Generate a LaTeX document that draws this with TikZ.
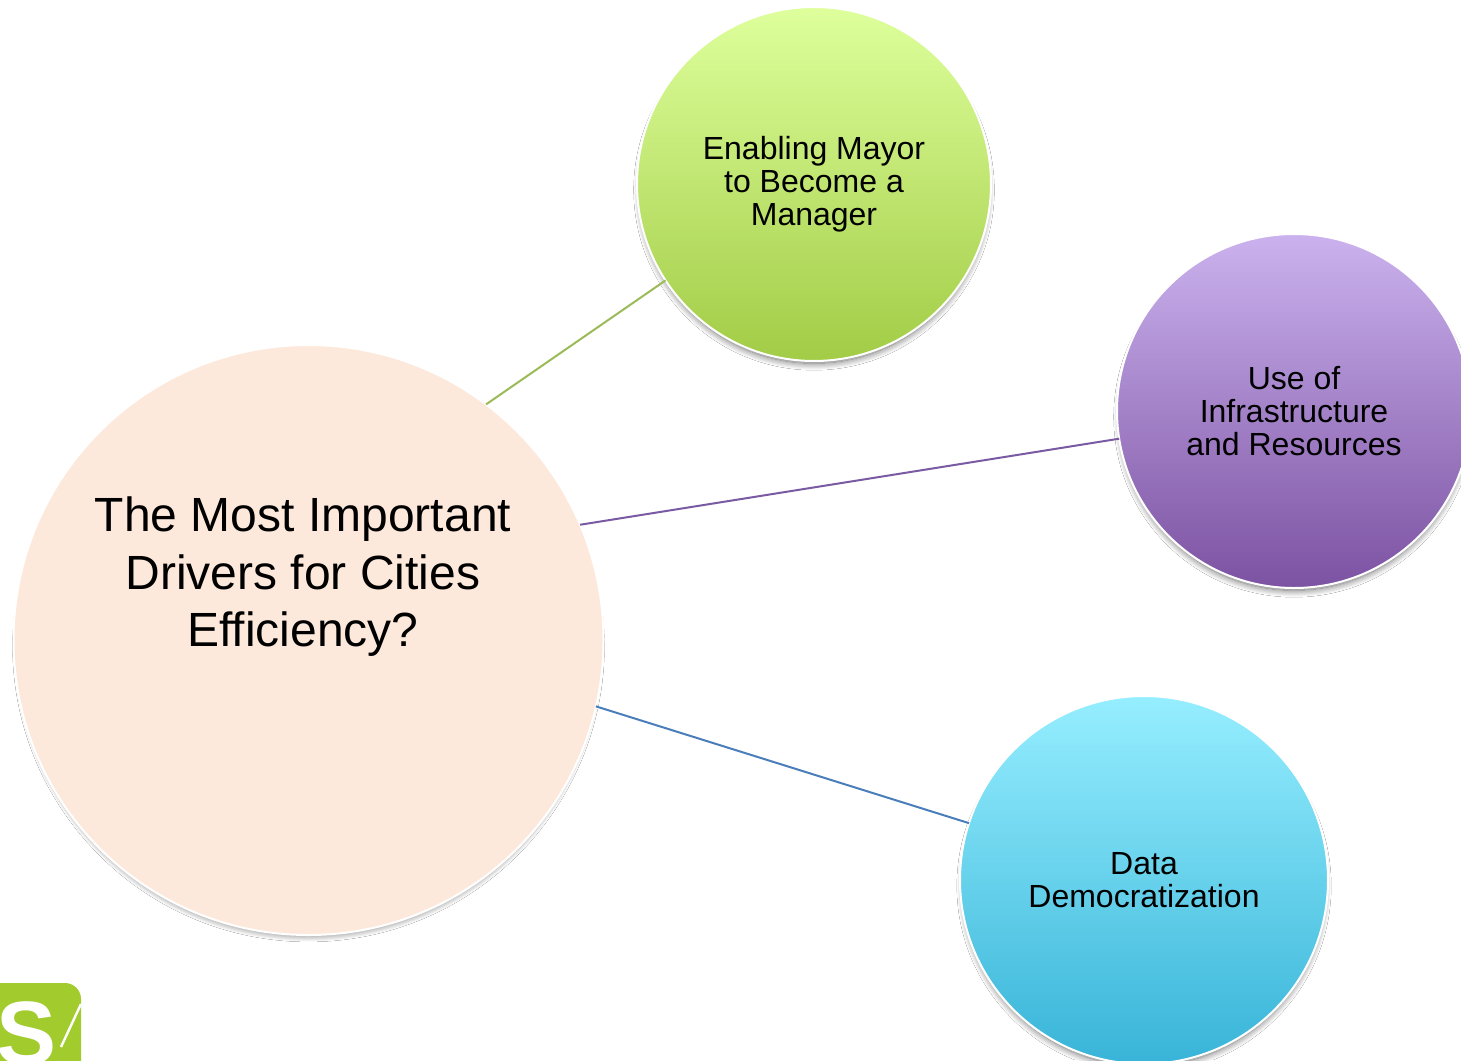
\documentclass[tikz,border=0pt]{standalone}
\usepackage{fontspec}
\setmainfont{Liberation Sans}
\usetikzlibrary{shadows.blur}
\definecolor{mainPeach}{HTML}{FDE9DB}
\definecolor{logoGreen}{HTML}{A2CB2E}
\definecolor{lineGreen}{HTML}{9BBB59}
\definecolor{linePurple}{HTML}{7A5BA3}
\definecolor{lineBlue}{HTML}{4A7EBB}
\definecolor{mayorTop}{RGB}{222,255,156}
\definecolor{mayorBot}{RGB}{162,204,70}
\definecolor{infraTop}{RGB}{203,178,238}
\definecolor{infraBot}{RGB}{124,82,162}
\definecolor{dataTop}{RGB}{150,238,255}
\definecolor{dataBot}{RGB}{56,180,216}
\tikzset{
	bubble/.style={circle,draw=white,line width=1pt,inner sep=0pt,outer sep=0pt,align=center,
		font=\fontsize{16}{16.6}\selectfont,
		blur shadow={shadow xshift=0pt,shadow yshift=-3pt,shadow scale=.98,shadow blur radius=3.5pt,shadow blur steps=12,shadow opacity=60}},
	link/.style={line width=1pt}
}
\begin{document}
\begin{tikzpicture}[x=.5pt,y=-.5pt]
	\clip (0,0) rectangle (1461,1060);
	\fill[white] (0,0) rectangle (1461,1060);
	% logo
	\fill[logoGreen,rounded corners=8pt] (-40,983) rectangle (81,1110);
	\node[text=white,font=\fontsize{45}{45}\bfseries\selectfont,inner sep=0pt] (logoS) at (27,1034) {S};
	\coordinate (slashA) at (81,1004);
	\coordinate (slashB) at (61,1047);
	\draw[white,line width=1.2pt] (slashA)--(slashB);
	% bubbles
	\node[bubble,minimum size=295pt,fill=mainPeach] (main) at (308.5,640) {};
	\node[font=\fontsize{24}{28.75}\selectfont,align=center,inner sep=0pt] (mainText) at (303,577) {The Most Important\\Drivers for Cities\\Efficiency?};
	\node[bubble,minimum size=177pt,top color=mayorTop,bottom color=mayorBot] (mayor) at (814,184) {Enabling Mayor\\to Become a\\Manager};
	\node[bubble,minimum size=177pt,top color=infraTop,bottom color=infraBot] (infra) at (1294,411) {Use of\\Infrastructure\\and Resources};
	\node[bubble,minimum size=184pt,top color=dataTop,bottom color=dataBot] (data) at (1144,880) {Data\\Democratization};
	% links
	\draw[link,lineGreen] (main.53.7)--(mayor.213.9);
	\draw[link,linePurple] (main.23.7)--(infra.189);
	\draw[link,lineBlue] (main.-13.8)--(data.162.4);
\end{tikzpicture}
\end{document}
